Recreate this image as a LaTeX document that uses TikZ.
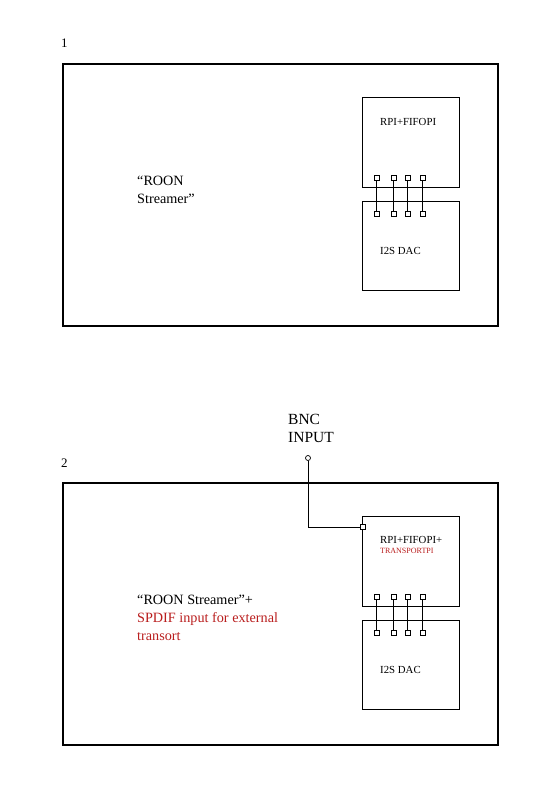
\documentclass[tikz,border=0pt]{standalone}
\usepackage{fontspec}
\setmainfont{Liberation Serif}
\definecolor{myred}{RGB}{185,30,30}
\begin{document}
\begin{tikzpicture}[x=1pt,y=-1pt,
  outer/.style={draw,line width=2.3pt,inner sep=0pt},
  board/.style={draw,line width=0.7pt,minimum width=97pt,minimum height=90pt,inner sep=0pt,anchor=north west},
  pin/.style={draw,line width=0.6pt,minimum size=5pt,inner sep=0pt,fill=white},
  wire/.style={line width=0.8pt},
  lbl/.style={font=\fontsize{14.2}{18}\selectfont,align=left,anchor=north west,inner sep=0pt},
  small/.style={font=\fontsize{10.8}{12}\selectfont,inner sep=0pt,anchor=west,align=left}]
\useasboundingbox (0,0) rectangle (559,794);
% ---------- diagram 1
\node[anchor=base west,inner sep=0pt,font=\fontsize{13}{15}\selectfont] (n1) at (61,48) {1};
\node[outer,minimum width=435pt,minimum height=262pt,anchor=north west] (box1) at (62,63) {};
\node[board] (rpi1) at (362,97) {};
\node[board,minimum height=89pt] (dac1) at (362,201) {};
\node[small] (rpi1t) at (380,122) {RPI+FIFOPI};
\node[small] (dac1t) at (380,251) {I2S DAC};
\node[lbl] (roon1) at (137,176) {“ROON\\[0pt]Streamer”};
\foreach \i/\x in {1/376.5,2/393.5,3/407.5,4/422.5}{
  \node[pin] (a\i) at (\x,177.5) {};
  \node[pin] (b\i) at (\x,213.5) {};
  \draw[wire] (a\i) -- (b\i);
}
% ---------- diagram 2
\node[anchor=base west,inner sep=0pt,font=\fontsize{13}{15}\selectfont] (n2) at (61,467) {2};
\node[outer,minimum width=435pt,minimum height=262pt,anchor=north west] (box2) at (62,482) {};
\node[board] (rpi2) at (362,516) {};
\node[board,minimum height=89pt] (dac2) at (362,620) {};
\node[small] (rpi2t) at (380,545) {RPI+FIFOPI+\\[-1.5pt]{\color{myred}\fontsize{8}{9}\selectfont TRANSPORTPI}};
\node[small] (dac2t) at (380,670) {I2S DAC};
\node[lbl] (roon2) at (137,595) {“ROON Streamer”+\\[0pt]{\color{myred}SPDIF input for external}\\[0pt]{\color{myred}transort}};
\foreach \i/\x in {1/376.5,2/393.5,3/407.5,4/422.5}{
  \node[pin] (c\i) at (\x,596.5) {};
  \node[pin] (d\i) at (\x,632.5) {};
  \draw[wire] (c\i) -- (d\i);
}
\node[lbl,font=\fontsize{15.5}{18}\selectfont] (bnc) at (288,414) {BNC\\[0pt]INPUT};
\node[circle,draw,line width=0.7pt,minimum size=5pt,inner sep=0pt] (jack) at (308,458) {};
\node[pin] (spdif) at (363,527) {};
\draw[wire] (jack) |- (spdif);
\end{tikzpicture}
\end{document}
